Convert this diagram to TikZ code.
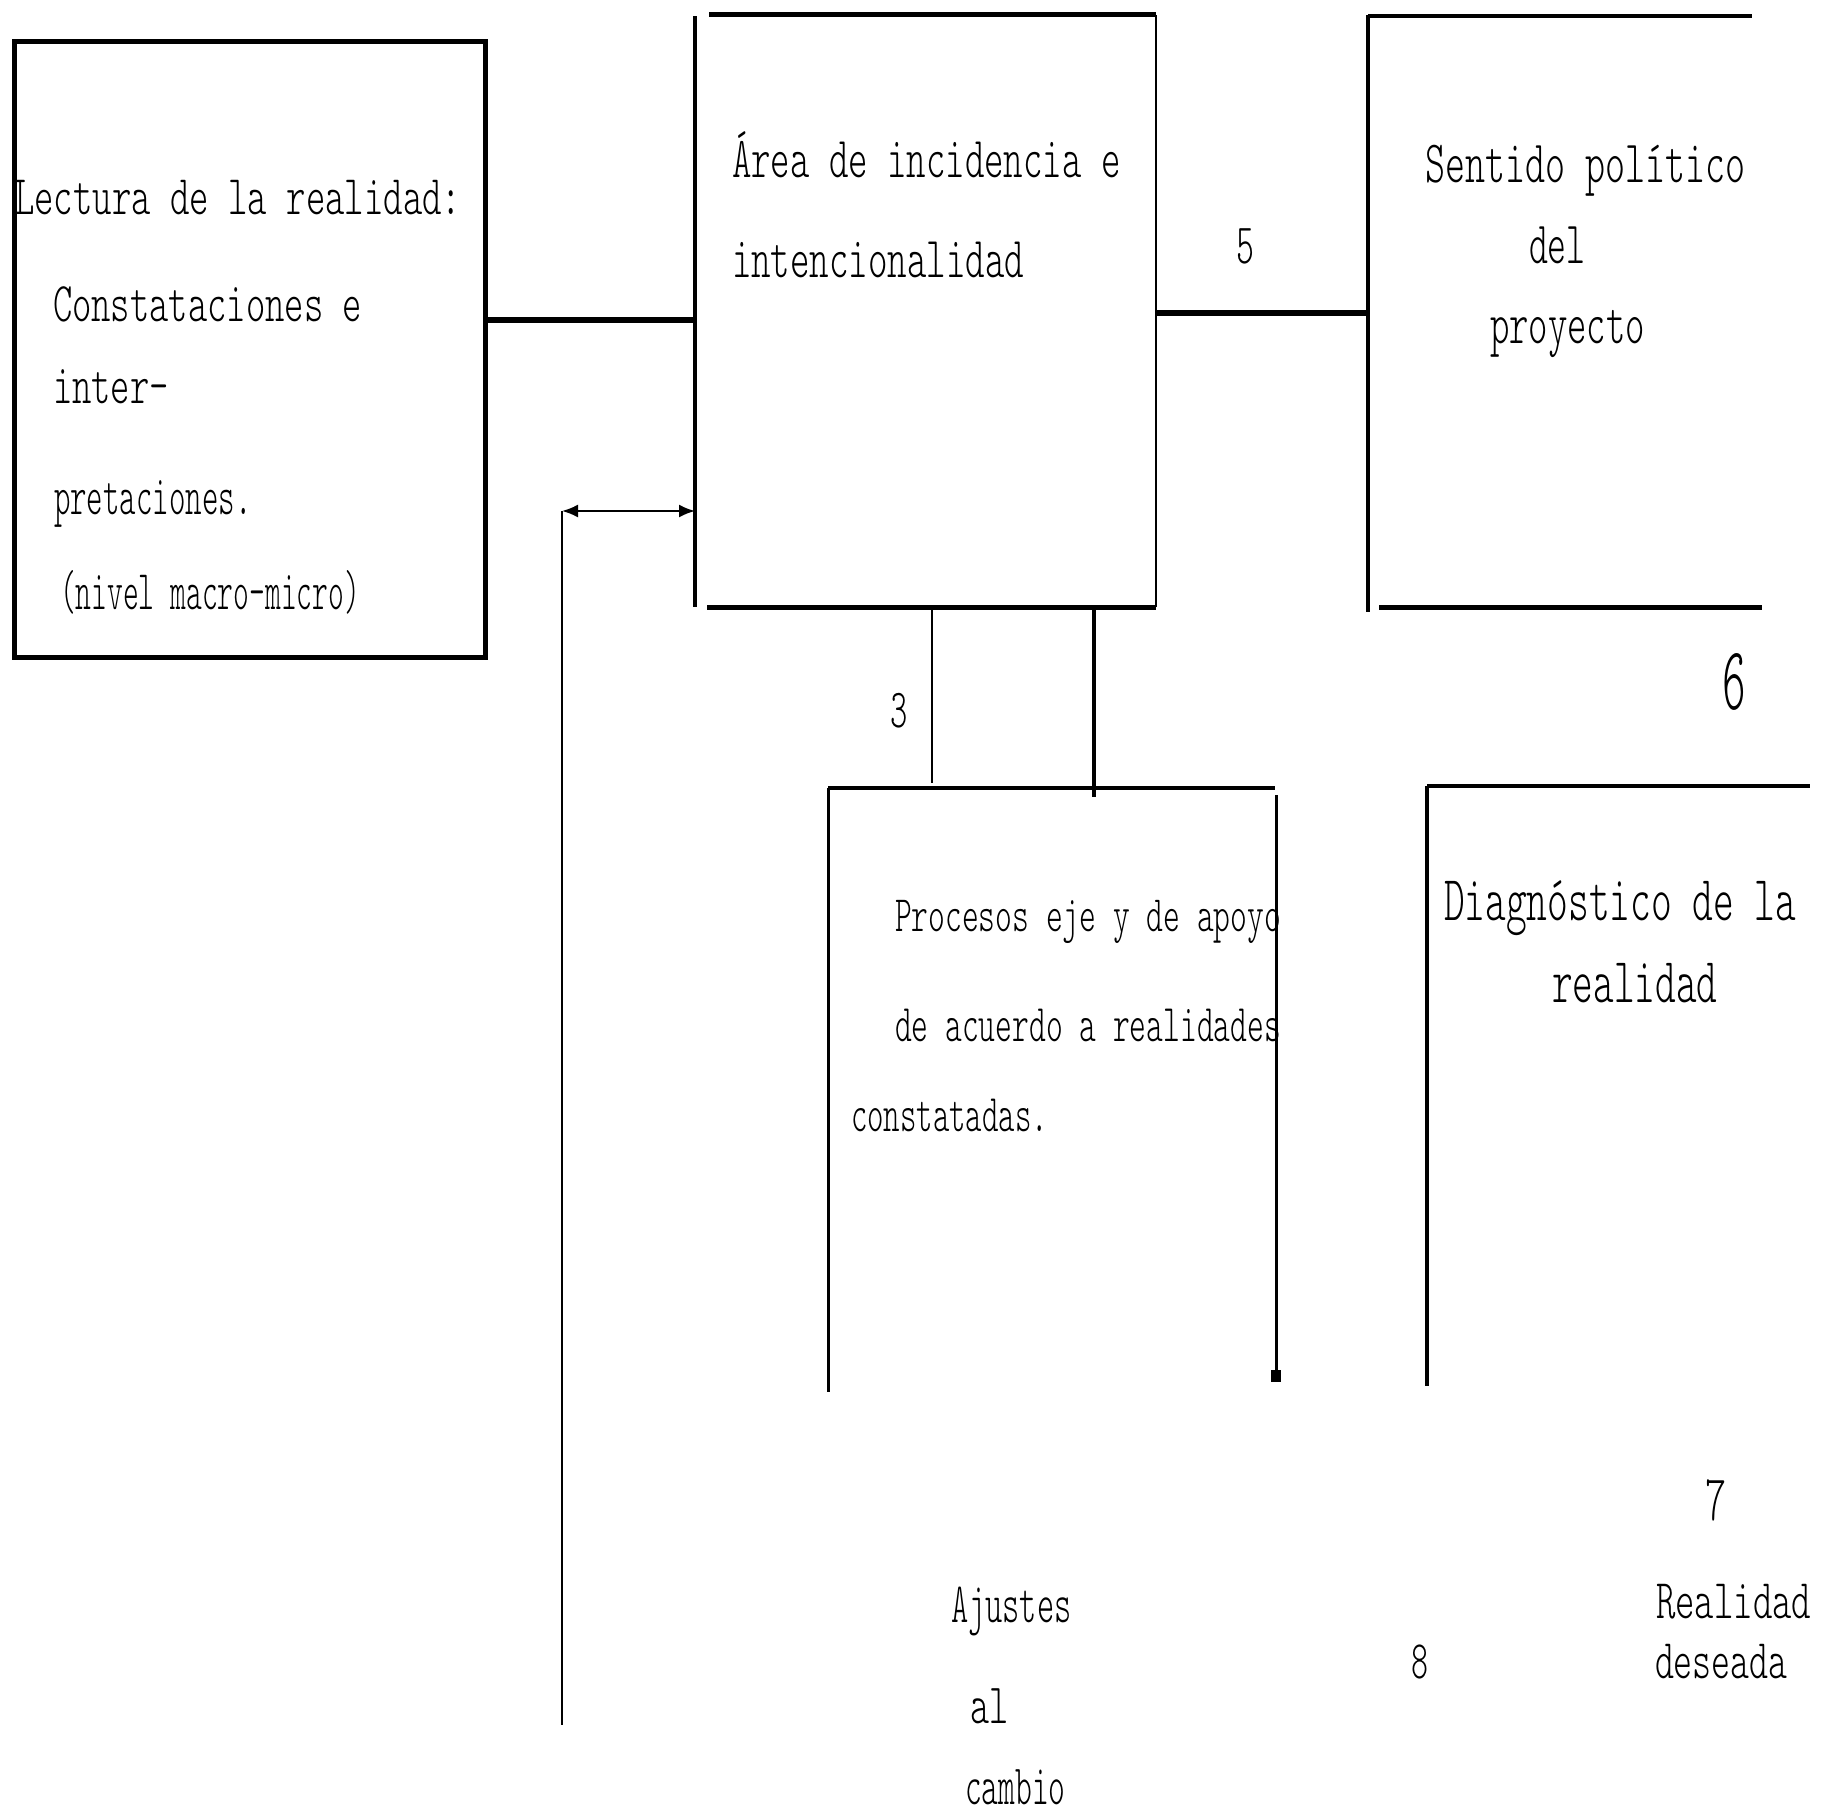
\documentclass[tikz,border=0pt]{standalone}
\usepackage{graphicx}
\usetikzlibrary{arrows.meta}
\newcommand{\tx}[3]{{\fontseries{l}\ttfamily\fontsize{#1}{#1}\selectfont\scalebox{#2}[1]{#3}}}
\tikzset{
  lbl/.style={anchor=base west, inner sep=0pt, outer sep=0pt},
  lblc/.style={anchor=base, inner sep=0pt, outer sep=0pt}
}
\begin{document}
\begin{tikzpicture}[x=1pt,y=-1pt]
\useasboundingbox (0,0) rectangle (1824,1815);
\fill[white] (0,0) rectangle (1824,1815);

% Box 1
\node[draw, line width=5pt, minimum width=471pt, minimum height=616pt, inner sep=0pt] (b1) at (249.5,349) {};

% Box 2 (open)
\coordinate (b2l1) at (695,16);  \coordinate (b2l2) at (695,607);
\coordinate (b2t1) at (709,14.6); \coordinate (b2t2) at (1156,14.6);
\coordinate (b2r1) at (1156,15); \coordinate (b2r2) at (1156,607);
\coordinate (b2b1) at (707,607); \coordinate (b2b2) at (1156,607);
\draw[line width=3.5pt] (b2l1) -- (b2l2);
\draw[line width=5pt] (b2t1) -- (b2t2);
\draw[line width=2pt] (b2r1) -- (b2r2);
\draw[line width=5pt] (b2b1) -- (b2b2);

% Box 3 (open)
\coordinate (b3l1) at (1368,15); \coordinate (b3l2) at (1368,612);
\coordinate (b3t1) at (1368,16); \coordinate (b3t2) at (1752,16);
\coordinate (b3b1) at (1379,607); \coordinate (b3b2) at (1762,607);
\draw[line width=3.5pt] (b3l1) -- (b3l2);
\draw[line width=4.5pt] (b3t1) -- (b3t2);
\draw[line width=5pt] (b3b1) -- (b3b2);

% Box 4 (open)
\coordinate (b4t1) at (828,788); \coordinate (b4t2) at (1275,788);
\coordinate (b4l2) at (828,1392);
\coordinate (b4r1) at (1276,795); \coordinate (b4r2) at (1276,1379);
\draw[line width=3.5pt] (b4t1) -- (b4t2);
\draw[line width=3pt] (b4t1) -- (b4l2);
\draw[line width=3pt] (b4r1) -- (b4r2);
\fill (1271,1370) rectangle (1281,1382);

% Box 5 (open)
\coordinate (b5t1) at (1427,786); \coordinate (b5t2) at (1810,786);
\coordinate (b5l2) at (1427,1386);
\draw[line width=3.5pt] (b5t1) -- (b5t2);
\draw[line width=4pt] (b5t1) -- (b5l2);

% Connectors
\coordinate (c12a) at (b1.east |- 0,320); \coordinate (c12b) at (695,320);
\draw[line width=6pt] (c12a) -- (c12b);
\coordinate (c23a) at (1156,313); \coordinate (c23b) at (1368,313);
\draw[line width=6.5pt] (c23a) -- (c23b);
\coordinate (c24a) at (932,609); \coordinate (c24b) at (932,783);
\draw[line width=2pt] (c24a) -- (c24b);
\coordinate (c24c) at (1094,609); \coordinate (c24d) at (1094,797);
\draw[line width=4pt] (c24c) -- (c24d);

% Feedback arrow
\coordinate (fa) at (562,511); \coordinate (fb) at (695,511);
\coordinate (fc) at (562,1725);
\draw[line width=2pt, {Latex[length=16pt,width=13pt]}-{Latex[length=16pt,width=13pt]}] (fa) -- (fb);
\draw[line width=2.5pt] (fa) -- (fc);

% Texts box 1
\node[lbl] (t1) at (15,214.7) {\tx{56}{0.66}{Lectura de la realidad:}};
\node[lbl] (t2) at (53,321.8) {\tx{56}{0.657}{Constataciones e}};
\node[lbl] (t3) at (53,403) {\tx{56}{0.657}{inter-}};
\node[lbl] (t4) at (54,514) {\tx{56}{0.56}{pretaciones.}};
\node[lbl] (t5) at (60,609) {\tx{56}{0.537}{(nivel macro-micro)}};

% Texts box 2
\node[lbl] (t6) at (732,177) {\tx{58}{0.638}{Área de incidencia e}};
\node[lbl] (t7) at (732,277) {\tx{58}{0.64}{intencionalidad}};

% Texts box 3
\node[lbl] (t8) at (1425,182) {\tx{60}{0.635}{Sentido político}};
\node[lbl] (t9) at (1529,263) {\tx{60}{0.60}{del}};
\node[lbl] (t10) at (1490,343) {\tx{60}{0.615}{proyecto}};

% Numbers
\node[lblc] (n5) at (1245,263) {\tx{57}{0.6}{5}};
\node[lblc] (n3) at (899,727) {\tx{55}{0.6}{3}};
\node[lblc] (n6) at (1734,709) {\tx{90}{0.5}{6}};
\node[lblc] (n7) at (1716,1520) {\tx{65}{0.62}{7}};
\node[lblc] (n8) at (1420,1678) {\tx{54}{0.6}{8}};

% Texts box 4
\node[lbl] (t11) at (895,931.7) {\tx{51}{0.627}{Procesos eje y de apoyo}};
\node[lbl] (t12) at (895,1041.7) {\tx{53}{0.603}{de acuerdo a realidades}};
\node[lbl] (t13) at (851,1131.7) {\tx{53}{0.59}{constatadas.}};

% Texts box 5
\node[lbl] (t14) at (1444,920) {\tx{64}{0.617}{Diagnóstico de la}};
\node[lbl] (t15) at (1552,1002) {\tx{64}{0.615}{realidad}};

% Bottom texts
\node[lbl] (t16) at (1656,1618) {\tx{56}{0.66}{Realidad}};
\node[lbl] (t17) at (1655,1678.6) {\tx{56}{0.645}{deseada}};
\node[lbl] (t18) at (951,1622.7) {\tx{57}{0.575}{Ajustes}};
\node[lbl] (t19) at (970,1723.7) {\tx{57}{0.64}{al}};
\node[lbl] (t20) at (965,1804) {\tx{57}{0.56}{cambio}};
\end{tikzpicture}
\end{document}
